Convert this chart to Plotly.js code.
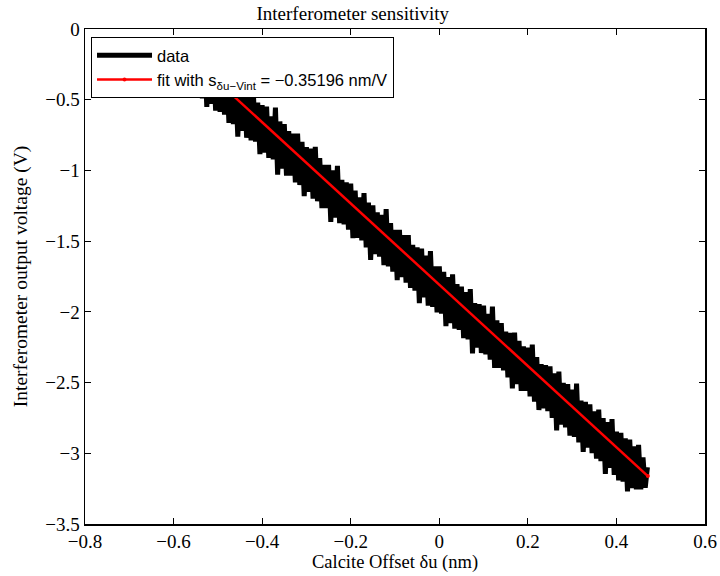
<!DOCTYPE html>
<html>
<head>
<meta charset="utf-8">
<script src="https://cdn.plot.ly/plotly-3.0.1.min.js"></script>
<style>html,body{margin:0;padding:0;background:#fff}#chart{width:720px;height:576px}</style>
</head>
<body>
<div id="chart"></div>
<script>
// Calcite offset (nm) samples of the measured data
const dataX = [
-0.550,-0.545,-0.540,-0.535,-0.530,-0.525,-0.520,-0.515,-0.510,-0.505,
-0.500,-0.495,-0.490,-0.485,-0.480,-0.475,-0.470,-0.465,-0.460,-0.455,
-0.450,-0.445,-0.440,-0.435,-0.430,-0.425,-0.420,-0.415,-0.410,-0.405,
-0.400,-0.395,-0.390,-0.385,-0.380,-0.375,-0.370,-0.365,-0.360,-0.355,
-0.350,-0.345,-0.340,-0.335,-0.330,-0.325,-0.320,-0.315,-0.310,-0.305,
-0.300,-0.295,-0.290,-0.285,-0.280,-0.275,-0.270,-0.265,-0.260,-0.255,
-0.250,-0.245,-0.240,-0.235,-0.230,-0.225,-0.220,-0.215,-0.210,-0.205,
-0.200,-0.195,-0.190,-0.185,-0.180,-0.175,-0.170,-0.165,-0.160,-0.155,
-0.150,-0.145,-0.140,-0.135,-0.130,-0.125,-0.120,-0.115,-0.110,-0.105,
-0.100,-0.095,-0.090,-0.085,-0.080,-0.075,-0.070,-0.065,-0.060,-0.055,
-0.050,-0.045,-0.040,-0.035,-0.030,-0.025,-0.020,-0.015,-0.010,-0.005,
0.000,0.005,0.010,0.015,0.020,0.025,0.030,0.035,0.040,0.045,
0.050,0.055,0.060,0.065,0.070,0.075,0.080,0.085,0.090,0.095,
0.100,0.105,0.110,0.115,0.120,0.125,0.130,0.135,0.140,0.145,
0.150,0.155,0.160,0.165,0.170,0.175,0.180,0.185,0.190,0.195,
0.200,0.205,0.210,0.215,0.220,0.225,0.230,0.235,0.240,0.245,
0.250,0.255,0.260,0.265,0.270,0.275,0.280,0.285,0.290,0.295,
0.300,0.305,0.310,0.315,0.320,0.325,0.330,0.335,0.340,0.345,
0.350,0.355,0.360,0.365,0.370,0.375,0.380,0.385,0.390,0.395,
0.400,0.405,0.410,0.415,0.420,0.425,0.430,0.435,0.440,0.445,
0.450,0.455,0.460,0.465,0.470
];
// Interferometer output voltage (V) of the measured data
const dataY = [
-0.108,-0.483,-0.137,-0.491,-0.166,-0.550,-0.194,-0.529,-0.223,-0.578,
-0.252,-0.586,-0.291,-0.605,-0.299,-0.664,-0.278,-0.673,-0.367,-0.761,
-0.416,-0.720,-0.414,-0.769,-0.453,-0.787,-0.442,-0.796,-0.520,-0.885,
-0.539,-0.874,-0.548,-0.912,-0.617,-0.921,-0.555,-1.030,-0.654,-0.988,
-0.673,-1.037,-0.722,-1.036,-0.740,-1.085,-0.739,-1.103,-0.798,-1.182,
-0.836,-1.151,-0.845,-1.199,-0.834,-1.218,-0.913,-1.267,-0.961,-1.266,
-0.960,-1.364,-0.999,-1.333,-0.967,-1.372,-1.066,-1.381,-1.085,-1.419,
-1.094,-1.478,-1.142,-1.477,-1.191,-1.495,-1.160,-1.544,-1.228,-1.633,
-1.247,-1.592,-1.296,-1.610,-1.315,-1.669,-1.273,-1.678,-1.372,-1.716,
-1.421,-1.775,-1.420,-1.754,-1.458,-1.793,-1.457,-1.831,-1.526,-1.850,
-1.544,-1.939,-1.553,-1.897,-1.602,-1.956,-1.571,-1.965,-1.679,-2.004,
-1.678,-2.012,-1.717,-2.101,-1.755,-2.080,-1.734,-2.119,-1.803,-2.127,
-1.822,-2.186,-1.860,-2.195,-1.839,-2.293,-1.938,-2.252,-1.946,-2.291,
-1.955,-2.300,-2.014,-2.338,-1.963,-2.397,-2.061,-2.396,-2.080,-2.414,
-2.139,-2.463,-2.148,-2.542,-2.146,-2.511,-2.205,-2.559,-2.244,-2.558,
-2.252,-2.597,-2.231,-2.635,-2.320,-2.694,-2.369,-2.683,-2.377,-2.702,
-2.386,-2.750,-2.435,-2.839,-2.423,-2.798,-2.502,-2.817,-2.511,-2.875,
-2.550,-2.884,-2.508,-2.923,-2.627,-2.991,-2.636,-2.960,-2.654,-2.999,
-2.703,-3.038,-2.692,-3.056,-2.751,-3.145,-2.779,-3.104,-2.758,-3.152,
-2.847,-3.191,-2.856,-3.200,-2.894,-3.269,-2.903,-3.247,-2.952,-3.256,
-2.940,-3.255,-3.029,-3.243,-3.098
];
// Linear fit end points
const fitX = [-0.500, 0.471];
const fitY = [-0.372, -3.161];

const seriesNames = ["data", "fit with s<sub>δu−Vint</sub> = −0.35196 nm/V"];
const titleText = "Interferometer sensitivity";
const xTitle = "Calcite Offset δu (nm)";
const yTitle = "Interferometer output voltage (V)";

const serif = "Liberation Serif, Times New Roman, serif";
const sans = "Liberation Sans, Arial, sans-serif";

const traces = [
  {
    x: dataX, y: dataY, name: seriesNames[0], type: "scatter", mode: "lines",
    line: {color: "#000000", width: 5}
  },
  {
    x: fitX, y: fitY, name: seriesNames[1], type: "scatter", mode: "lines+markers",
    line: {color: "#ff0000", width: 2.5},
    marker: {color: "#ff0000", size: 4}
  }
];

const axisCommon = {
  showgrid: false, zeroline: false, showline: true, linecolor: "#000", linewidth: 1.5,
  mirror: "ticks", ticks: "inside", ticklen: 6, tickwidth: 1, tickcolor: "#000",
  tickfont: {family: serif, size: 19, color: "#000"}
};

const layout = {
  width: 720, height: 576,
  margin: {l: 85, r: 15, t: 29, b: 52},
  paper_bgcolor: "#fff", plot_bgcolor: "#fff",
  showlegend: true,
  title: {text: titleText, font: {family: serif, size: 19, color: "#000"}, xref: "container", x: 0.49, xanchor: "center", y: 0.977, yanchor: "middle"},
  xaxis: Object.assign({}, axisCommon, {
    range: [-0.8, 0.6], dtick: 0.2, tick0: 0,
    title: {text: xTitle, font: {family: serif, size: 18.5, color: "#000"}, standoff: 2}
  }),
  yaxis: Object.assign({}, axisCommon, {
    range: [-3.5, 0], dtick: 0.5, tick0: 0,
    title: {text: yTitle, font: {family: serif, size: 19.5, color: "#000"}, standoff: 12}
  }),
  legend: {
    x: 0.0097, y: 0.984, xanchor: "left", yanchor: "top",
    bgcolor: "#fff", bordercolor: "#000", borderwidth: 1,
    font: {family: sans, size: 16.5, color: "#000"},
    itemwidth: 55, tracegroupgap: 0
  }
};

Plotly.newPlot("chart", traces, layout, {displayModeBar: false, staticPlot: true});
</script>
</body>
</html>
